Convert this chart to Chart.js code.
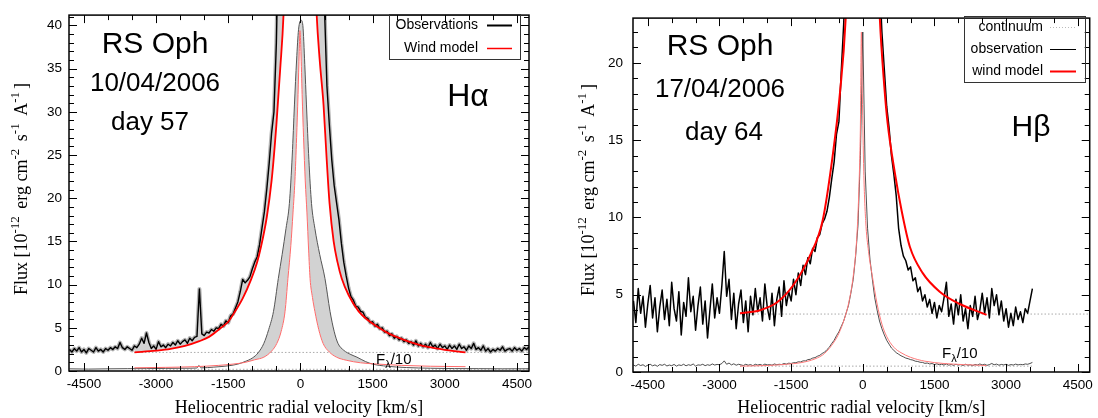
<!DOCTYPE html>
<html>
<head>
<meta charset="utf-8">
<script src="https://cdn.jsdelivr.net/npm/chart.js@4.4.0/dist/chart.umd.min.js"></script>
<style>
html, body { margin: 0; padding: 0; background: #fff; }
#wrap { position: relative; width: 1098px; height: 418px; overflow: hidden; }
.panel { position: absolute; top: 0; width: 549px; height: 418px; }
</style>
</head>
<body>
<div id="wrap">
  <div class="panel" style="left:0"><canvas id="ha" width="549" height="418"></canvas></div>
  <div class="panel" style="left:549px"><canvas id="hb" width="549" height="418"></canvas></div>
</div>
<script>
// ---- shared axis ----
const velMin = -4810
const velMax = 4750
const velTickLabels = [-4500, -3000, -1500, 0, 1500, 3000, 4500]

// ---- H alpha, 10/04/2006 (day 57) ----
// observed spectrum on a regular grid: first velocity + step, fluxes in 1e-12 units
const haObsStart = -4800
const haObsStep = 50
const haObsFlux = [
  2.5, 2.2, 2.6, 2.3, 2.7, 2.2, 2.5, 2.1, 2.6, 2.4, 2.2, 2.7, 2.3, 2.5, 2.2, 2.6, 2.4, 2.7, 2.5, 2.8,
  2.6, 3.3, 2.7, 2.5, 2.8, 2.6, 2.4, 2.9, 2.7, 3.1, 3.8, 3.2, 4.4, 3.3, 2.6, 2.9, 2.5, 3.4, 2.8, 3.0,
  2.7, 3.1, 2.9, 3.3, 3.0, 3.5, 3.1, 3.4, 3.6, 3.2, 3.8, 3.5, 3.9, 4.0, 9.5, 4.3, 4.1, 4.5, 4.4, 4.8,
  4.6, 5.0, 4.9, 5.4, 5.2, 5.8, 5.6, 6.4, 6.6, 7.3, 8.0, 9.2, 10.6, 10.2, 10.5, 10.9, 11.8, 12.6, 13.2, 14.6,
  16.5, 18.4, 21.0, 24.0, 27.5, 30.0, 38.0, 52, 72, 100, 140, 185, 235, 290, 340, 380, 405, 395, 360, 310,
  255, 200, 150, 110, 80, 56, 42, 33, 28.5, 24.5, 21.5, 19.5, 17.5, 14.8, 12.6, 11.0, 9.6, 8.6, 8.2, 7.5,
  7.4, 6.9, 6.8, 6.2, 6.1, 5.6, 5.7, 5.2, 5.4, 4.9, 5.0, 4.5, 4.6, 4.1, 4.3, 3.8, 4.0, 3.6, 3.8, 3.4,
  3.6, 3.2, 3.4, 3.0, 3.5, 2.9, 3.2, 2.8, 3.1, 2.7, 3.3, 2.8, 3.0, 2.6, 3.1, 2.7, 2.9, 2.5, 3.0, 2.6,
  2.9, 2.5, 3.1, 2.6, 2.8, 2.4, 2.9, 2.6, 3.2, 2.5, 2.7, 2.4, 2.9, 2.3, 2.6, 2.2, 2.5, 2.3, 2.6, 2.4,
  2.8, 2.3, 2.5, 2.6, 2.3, 2.7, 2.4, 2.6, 2.3, 2.7, 2.5, 2.8
]
const haModelVel = [-3450, -3000, -2700, -2400, -2100, -1900, -1650, -1500, -1380, -1200, -1025, -900, -815, -700, -600, -500, -420, -350, -280, -200, -100, -20, 60, 150, 250, 335, 400, 480, 540, 605, 690, 770, 858, 1000, 1210, 1400, 1630, 1850, 2110, 2400, 2680, 3000, 3430]
const haModelFlux = [2.15, 2.35, 2.55, 2.9, 3.45, 3.95, 5.0, 5.7, 6.7, 8.4, 10.6, 12.6, 14.5, 17.8, 22, 28.5, 35, 41.5, 55, 85, 200, 394, 210, 100, 55, 41.5, 36, 30.8, 25, 19.4, 15.0, 12.6, 10.7, 8.8, 6.9, 5.9, 5.0, 4.3, 3.7, 3.15, 2.75, 2.45, 2.15]
// F_lambda / 10 profiles
const haObs10Vel = [-4800, -4400, -4000, -3600, -3200, -2800, -2400, -2150, -2110, -2070, -1800, -1500, -1300, -1150, -1000, -880, -760, -660, -560, -460, -380, -300, -230, -170, -125, -80, -40, 15, 50, 90, 125, 175, 230, 300, 400, 510, 615, 700, 780, 900, 1050, 1175, 1350, 1500, 1800, 2200, 2700, 3200, 3700, 4200, 4750]
const haObs10Flux = [0.25, 0.22, 0.25, 0.27, 0.28, 0.3, 0.32, 0.35, 0.65, 0.36, 0.45, 0.6, 0.8, 1.1, 1.5, 2.1, 3.2, 4.8, 6.9, 10.7, 13.5, 16.5, 19.4, 25, 30.8, 36, 39.5, 40.6, 40, 35.5, 30.8, 24.5, 19.4, 16.5, 13.5, 10.7, 6.9, 4.6, 3.2, 2.4, 1.9, 1.6, 1.1, 0.8, 0.55, 0.4, 0.32, 0.28, 0.27, 0.25, 0.26]
const haModel10Vel = [-3450, -2800, -2200, -1700, -1400, -1150, -950, -760, -600, -490, -400, -320, -260, -200, -155, -115, -80, -50, -25, -10, 10, 35, 65, 100, 135, 170, 200, 250, 300, 380, 470, 600, 750, 950, 1250, 1600, 2100, 2700, 3430]
const haModel10Flux = [0.37, 0.42, 0.5, 0.65, 0.8, 1.0, 1.3, 1.6, 2.3, 3.2, 4.6, 6.9, 10.7, 14.5, 18.3, 22, 27, 32, 37, 39.4, 37, 32, 27, 22, 18.3, 14, 10.7, 8.5, 6.9, 4.8, 3.2, 2.2, 1.6, 1.25, 0.95, 0.8, 0.65, 0.55, 0.5]
const haContVel = [-3450, 4750]
const haContFlux = [2.15, 2.15]
const haCont10Flux = [0.2, 0.2]

// ---- H beta, 17/04/2006 (day 64) ----
const hbObsStart = -4800
const hbObsStep = 50
const hbObsFlux = [
  4.6, 3.2, 5.4, 3.8, 4.9, 2.9, 4.4, 5.6, 3.5, 4.8, 2.6, 4.2, 5.3, 3.4, 4.7, 3.0, 5.8, 4.1, 3.3, 5.2,
  2.4, 4.5, 3.6, 6.1, 3.9, 4.9, 2.7, 4.3, 5.5, 3.1, 4.6, 2.2, 4.0, 5.7, 3.5, 4.8, 3.8, 5.6, 7.8, 4.9,
  6.0, 3.4, 5.1, 2.8, 4.4, 5.3, 3.2, 4.6, 2.6, 4.9, 3.7, 5.4, 3.9, 4.8, 3.3, 5.7, 4.2, 3.4, 5.1, 3.0,
  4.7, 5.5, 3.6, 5.9, 4.3, 5.2, 4.6, 6.0, 5.0, 6.4, 5.6, 6.9, 6.3, 7.4, 7.0, 8.0, 7.8, 8.7, 8.9, 9.6,
  9.9, 10.4, 11.3, 12.5, 13.6, 15.4, 16.2, 19.5, 22.5, 27, 36, 55, 85, 130, 175, 210, 222, 200, 150, 100,
  65, 42, 31, 25.5, 22.0, 19.6, 17.2, 15.8, 14.0, 12.8, 11.4, 9.3, 8.2, 7.5, 7.2, 6.6, 6.8, 5.9, 6.1, 5.2,
  5.5, 4.6, 5.0, 4.2, 4.7, 3.8, 4.5, 3.5, 4.3, 3.9, 4.8, 5.8, 3.6, 4.4, 3.1, 4.7, 3.7, 5.0, 3.3, 4.1,
  2.8, 4.3, 3.6, 4.9, 3.4, 4.0, 5.1, 3.8, 4.8, 3.5, 5.4, 4.3, 5.0, 3.7, 4.6, 3.3, 4.1, 2.9, 3.8, 3.0,
  4.2, 3.4, 3.9, 3.2, 4.1, 3.8, 4.6, 5.4
]
const hbObs10Flux = [
  0.45, 0.38, 0.5, 0.42, 0.47, 0.36, 0.44, 0.5, 0.4, 0.46, 0.37, 0.48, 0.43, 0.5, 0.39, 0.45, 0.41, 0.49, 0.38, 0.46,
  0.42, 0.5, 0.4, 0.47, 0.43, 0.52, 0.38, 0.46, 0.44, 0.5, 0.41, 0.47, 0.43, 0.52, 0.45, 0.49, 0.47, 0.55, 0.72, 0.5,
  0.58, 0.46, 0.53, 0.44, 0.5, 0.46, 0.42, 0.5, 0.44, 0.48, 0.41, 0.5, 0.45, 0.49, 0.43, 0.51, 0.46, 0.48, 0.44, 0.52,
  0.47, 0.5, 0.48, 0.55, 0.51, 0.57, 0.55, 0.6, 0.6, 0.66, 0.65, 0.72, 0.72, 0.8, 0.82, 0.9, 0.93, 1.02, 1.08, 1.2,
  1.28, 1.45, 1.6, 1.85, 2.05, 2.35, 2.6, 2.95, 3.3, 3.8, 4.3, 5.1, 6.0, 7.5, 9.5, 14, 22, 13, 9.3, 7.3,
  6.0, 4.8, 4.0, 3.3, 2.8, 2.4, 2.05, 1.8, 1.55, 1.4, 1.25, 1.15, 1.05, 0.98, 0.9, 0.86, 0.8, 0.77, 0.7, 0.68,
  0.63, 0.62, 0.56, 0.58, 0.52, 0.55, 0.48, 0.53, 0.47, 0.5, 0.45, 0.52, 0.44, 0.49, 0.43, 0.5, 0.45, 0.48, 0.42, 0.5,
  0.44, 0.47, 0.41, 0.49, 0.45, 0.52, 0.46, 0.5, 0.43, 0.48, 0.55, 0.47, 0.51, 0.44, 0.49, 0.46, 0.5, 0.43, 0.48, 0.45,
  0.51, 0.46, 0.49, 0.47, 0.52, 0.5, 0.55, 0.62
]
const hbModelVel = [-2570, -2150, -1800, -1460, -1110, -840, -630, -480, -360, -300, -200, -100, -30, 50, 150, 250, 355, 450, 520, 670, 815, 985, 1255, 1610, 2030, 2590]
const hbModelFlux = [3.8, 4.0, 4.5, 5.6, 7.5, 9.8, 14, 18, 22.8, 28, 50, 120, 220, 120, 55, 32, 23, 18.5, 16.1, 12.9, 10.4, 8.1, 6.4, 5.2, 4.4, 3.7]
const hbModel10Vel = [-2570, -2000, -1600, -1300, -1000, -800, -600, -500, -400, -300, -200, -130, -80, -50, -30, -10, 20, 60, 120, 200, 300, 400, 500, 650, 800, 1000, 1300, 1700, 2100, 2590]
const hbModel10Flux = [0.38, 0.42, 0.5, 0.6, 0.85, 1.2, 1.95, 2.5, 3.3, 4.4, 6.2, 8.5, 12, 16, 22, 18, 13, 9.8, 7.8, 6.2, 4.4, 3.1, 2.3, 1.6, 1.25, 0.95, 0.7, 0.55, 0.48, 0.42]
const hbContVel = [-2570, 4750]
const hbContFlux = [3.75, 3.75]
const hbCont10Vel = [-2570, 3560]
const hbCont10Flux = [0.38, 0.38]

// ---- helpers ----
function grid(start, step, flux) {
  return flux.map((f, i) => ({ x: start + i * step, y: f }))
}
function pairs(vel, flux) {
  return vel.map((v, i) => ({ x: v, y: flux[i] }))
}

const SANS = 'Liberation Sans'
const SERIF = 'Liberation Serif'

// inward ticks on all four sides plus the black frame
const frame = {
  id: 'frame',
  afterDraw(chart) {
    const { ctx, chartArea: a, scales: { x, y } } = chart
    ctx.save()
    ctx.strokeStyle = '#000'
    ctx.lineWidth = 1
    ctx.beginPath()
    for (let v = -4500; v <= x.max; v += 500) {
      const px = Math.round(x.getPixelForValue(v)) + 0.5
      const len = v % 1500 === 0 ? 8 : 5
      ctx.moveTo(px, a.bottom); ctx.lineTo(px, a.bottom - len)
      ctx.moveTo(px, a.top); ctx.lineTo(px, a.top + len)
    }
    for (let v = 0; v <= y.max; v += 1) {
      const py = Math.round(y.getPixelForValue(v)) + 0.5
      const len = v % 5 === 0 ? 8 : 5
      ctx.moveTo(a.left, py); ctx.lineTo(a.left + len, py)
      ctx.moveTo(a.right, py); ctx.lineTo(a.right - len, py)
    }
    ctx.stroke()
    ctx.lineWidth = 1.5
    ctx.strokeRect(a.left, a.top, a.right - a.left, a.bottom - a.top)
    ctx.restore()
  }
}

function drawYTitle(ctx, cx, cy, size) {
  const parts = [['Flux [10', 0], ['-12', 1], [' erg cm', 0], ['-2', 1], [' s', 0], ['-1', 1], [' A', 0], ['-1', 1], [']', 0]]
  const big = size + 'px "' + SERIF + '"'
  const small = Math.round(size * 0.72) + 'px "' + SERIF + '"'
  ctx.save()
  ctx.textAlign = 'left'
  ctx.textBaseline = 'alphabetic'
  ctx.fillStyle = '#000'
  let w = 0
  parts.forEach(p => { ctx.font = p[1] ? small : big; w += ctx.measureText(p[0]).width + (p[1] ? 3 : 0) })
  ctx.translate(cx, cy)
  ctx.rotate(-Math.PI / 2)
  let xx = -w / 2
  parts.forEach(p => {
    ctx.font = p[1] ? small : big
    ctx.fillText(p[0], xx, p[1] ? 6 - size * 0.45 : 6)
    xx += ctx.measureText(p[0]).width + (p[1] ? 3 : 0)
  })
  ctx.restore()
}

function notesPlugin(cfg) {
  return {
    id: 'notes',
    afterDraw(chart) {
      const ctx = chart.ctx
      ctx.save()
      ctx.fillStyle = '#000'
      ctx.textAlign = 'center'
      ctx.textBaseline = 'middle'
      cfg.labels.forEach(t => {
        ctx.font = t.size + 'px "' + SANS + '"'
        ctx.fillText(t.text, t.x, t.y)
      })
      // F_lambda / 10
      ctx.textAlign = 'left'
      ctx.textBaseline = 'alphabetic'
      ctx.font = '15px "' + SANS + '"'
      ctx.fillText('F', cfg.fx, cfg.fy)
      let fw = ctx.measureText('F').width
      ctx.font = '11px "' + SANS + '"'
      ctx.fillText('λ', cfg.fx + fw, cfg.fy + 4)
      fw += ctx.measureText('λ').width
      ctx.font = '15px "' + SANS + '"'
      ctx.fillText('/10', cfg.fx + fw, cfg.fy)
      // legend box
      const L = cfg.legend
      ctx.strokeStyle = '#333'
      ctx.lineWidth = 1
      ctx.strokeRect(L.x + 0.5, L.y + 0.5, L.w, L.h)
      ctx.textAlign = 'right'
      ctx.textBaseline = 'middle'
      ctx.font = '14px "' + SANS + '"'
      L.items.forEach(it => {
        ctx.fillStyle = '#000'
        ctx.fillText(it.label, L.textRight, it.y)
        ctx.strokeStyle = it.color
        ctx.lineWidth = it.width
        ctx.setLineDash(it.dash || [])
        ctx.beginPath()
        ctx.moveTo(L.s0, it.y + 0.5)
        ctx.lineTo(L.s1, it.y + 0.5)
        ctx.stroke()
        ctx.setLineDash([])
      })
      ctx.restore()
      drawYTitle(ctx, cfg.ytx, cfg.yty, 18)
    }
  }
}

function makeChart(id, datasets, yMax, cfg) {
  return new Chart(document.getElementById(id), {
    type: 'line',
    data: { datasets },
    options: {
      responsive: false,
      animation: false,
      devicePixelRatio: 1,
      layout: { padding: { top: cfg.top, right: cfg.right, left: 0, bottom: 0 } },
      plugins: { legend: { display: false }, tooltip: { enabled: false } },
      elements: { point: { radius: 0 }, line: { borderJoinStyle: 'round', capBezierPoints: true } },
      scales: {
        x: {
          type: 'linear', min: velMin, max: velMax,
          afterFit: s => { s.height = cfg.xh },
          afterBuildTicks: s => { s.ticks = velTickLabels.map(v => ({ value: v })) },
          grid: { display: false, drawTicks: false },
          border: { display: false },
          ticks: { autoSkip: false, maxRotation: 0, padding: 5, color: '#000', font: { family: SANS, size: 13.5 }, callback: v => String(v) },
          title: { display: true, text: 'Heliocentric radial velocity [km/s]', color: '#000', font: { family: SERIF, size: 18 }, padding: { top: 0, bottom: -1 } }
        },
        y: {
          type: 'linear', min: 0, max: yMax,
          afterFit: s => { s.width = cfg.yw },
          afterBuildTicks: s => { s.ticks = [0, 5, 10, 15, 20, 25, 30, 35, 40].filter(v => v <= yMax).map(v => ({ value: v })) },
          grid: { display: false, drawTicks: false },
          border: { display: false },
          ticks: { autoSkip: false, padding: cfg.ypad, color: '#000', font: { family: SANS, size: 13.5 }, callback: v => String(v) }
        }
      }
    },
    plugins: [frame, notesPlugin(cfg)]
  })
}

const GRAYFILL = '#d2d2d2'
const NOFILL = 'rgba(0,0,0,0)'

makeChart('ha', [
  { label: 'Observations', data: grid(haObsStart, haObsStep, haObsFlux), borderColor: '#000', borderWidth: 1.4, fill: { target: 2, above: GRAYFILL, below: NOFILL }, order: 3 },
  { label: 'obs halo', data: grid(haObsStart, haObsStep, haObsFlux), borderColor: '#b4b4b4', borderWidth: 4, fill: false, order: 6 },
  { label: 'Wind model', data: pairs(haModelVel, haModelFlux), borderColor: '#ff0000', borderWidth: 1.8, cubicInterpolationMode: 'monotone', fill: false, order: 1 },
  { label: 'continuum', data: pairs(haContVel, haContFlux), borderColor: '#aaa', borderWidth: 1, borderDash: [1.5, 2], fill: false, order: 7 },
  { label: 'obs/10', data: pairs(haObs10Vel, haObs10Flux), borderColor: '#555', borderWidth: 1, cubicInterpolationMode: 'monotone', fill: { target: 5, above: GRAYFILL, below: NOFILL }, order: 4 },
  { label: 'model/10', data: pairs(haModel10Vel, haModel10Flux), borderColor: '#ff6a6a', borderWidth: 1, cubicInterpolationMode: 'monotone', fill: false, order: 2 },
  { label: 'continuum/10', data: pairs(haContVel, haCont10Flux), borderColor: '#aaa', borderWidth: 1, borderDash: [1.5, 2], fill: false, order: 7 }
], 41.2, {
  top: 7, right: 20, xh: 47, yw: 69, ypad: 7,
  labels: [
    { text: 'RS Oph', x: 155, y: 45, size: 30 },
    { text: '10/04/2006', x: 155, y: 84, size: 26 },
    { text: 'day 57', x: 150, y: 123, size: 26 },
    { text: 'Hα', x: 468, y: 97, size: 32 }
  ],
  fx: 376, fy: 364,
  legend: {
    x: 389, y: 14, w: 131, h: 45, textRight: 478, s0: 487, s1: 512,
    items: [
      { label: 'Observations', y: 25, color: '#000', width: 2 },
      { label: 'Wind model', y: 48, color: '#ff0000', width: 1.5 }
    ]
  },
  ytx: 21, yty: 189
})

makeChart('hb', [
  { label: 'observation', data: grid(hbObsStart, hbObsStep, hbObsFlux), borderColor: '#000', borderWidth: 1.5, fill: false, order: 3 },
  { label: 'wind model', data: pairs(hbModelVel, hbModelFlux), borderColor: '#ff0000', borderWidth: 2, cubicInterpolationMode: 'monotone', fill: false, order: 1 },
  { label: 'continuum', data: pairs(hbContVel, hbContFlux), borderColor: '#aaa', borderWidth: 1, borderDash: [1.5, 2], fill: false, order: 7 },
  { label: 'obs/10', data: grid(hbObsStart, hbObsStep, hbObs10Flux), borderColor: '#222', borderWidth: 0.8, fill: false, order: 4 },
  { label: 'model/10', data: pairs(hbModel10Vel, hbModel10Flux), borderColor: '#ff7a7a', borderWidth: 1, cubicInterpolationMode: 'monotone', fill: false, order: 2 },
  { label: 'continuum/10', data: pairs(hbCont10Vel, hbCont10Flux), borderColor: '#aaa', borderWidth: 1, borderDash: [1.5, 2], fill: false, order: 7 }
], 22.9, {
  top: 9, right: 8, xh: 46, yw: 84, ypad: 10,
  labels: [
    { text: 'RS Oph', x: 171, y: 47, size: 30 },
    { text: '17/04/2006', x: 171, y: 90, size: 26 },
    { text: 'day 64', x: 175, y: 133, size: 26 },
    { text: 'Hβ', x: 482, y: 128, size: 30 }
  ],
  fx: 393, fy: 358,
  legend: {
    x: 415, y: 16, w: 121, h: 66, textRight: 494, s0: 501, s1: 527,
    items: [
      { label: 'continuum', y: 27, color: '#bbb', width: 1, dash: [1, 2] },
      { label: 'observation', y: 49, color: '#000', width: 1 },
      { label: 'wind model', y: 71, color: '#ff0000', width: 2 }
    ]
  },
  ytx: 39, yty: 190
})
</script>
</body>
</html>
